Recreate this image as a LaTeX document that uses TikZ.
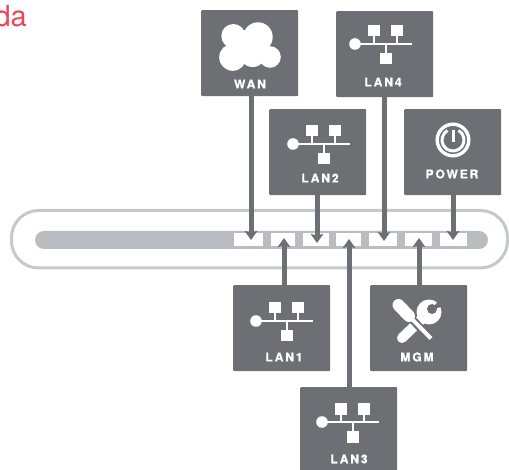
\documentclass[tikz,border=0pt]{standalone}
\usepackage{fontspec}
\setmainfont{TeX Gyre Heros}
\newfontfamily\lblfont[LetterSpace=16,FakeBold=1.2,UprightFont=*-Bold]{TeX Gyre Heros}
\usetikzlibrary{arrows.meta,calc}
\definecolor{boxgrey}{HTML}{6D6F74}
\definecolor{railgrey}{HTML}{C6C8CB}
\definecolor{bargrey}{HTML}{B9BCC0}
\definecolor{redtxt}{HTML}{EE4458}
\tikzset{
  x=1pt,y=-1pt,
  devbox/.style={fill=boxgrey,draw=none,rounded corners=1pt,minimum width=97pt,minimum height=86pt,inner sep=0pt,anchor=north west},
  portbox/.style={fill=white,draw=none,inner sep=0pt,minimum height=13pt,anchor=north west},
  lbl/.style={text=white,font=\lblfont\fontsize{12}{12}\selectfont,inner sep=0pt},
  conn/.style={draw=boxgrey,line width=5pt,-{Stealth[length=9pt,width=12.5pt,inset=1.5pt]}},
  pics/network/.style={code={
    \draw[white,line width=2pt] (0,0) -- (57,0);
    \draw[white,line width=2pt] (18.5,-10) -- (18.5,0) (41.5,-10) -- (41.5,0) (30.5,0) -- (30.5,10);
    \fill[white] (0,0) circle[radius=5.8];
    \fill[white] (13,-19) rectangle (24.5,-7.5);
    \fill[white] (36,-19) rectangle (47.5,-7.5);
    \fill[white] (25,9) rectangle (36.5,20.5);
  }}
}
\begin{document}
\begin{tikzpicture}
\useasboundingbox (0,0) rectangle (509,470);
\begin{scope}
\clip (0,0) rectangle (509,470);
\node[anchor=base east,inner sep=0pt,text=redtxt,font=\fontsize{29}{29}\selectfont] (title) at (27,27) {da};
% rail
\draw[railgrey,line width=3pt,rounded corners=27pt,fill=white] (11.5,210.5) rectangle (507.5,268);
\fill[bargrey,rounded corners=9pt] (35,231) rectangle (488,249);
% ports
\node[portbox,minimum width=29pt] (p1) at (234,233) {};
\node[portbox,minimum width=24pt] (p2) at (271,233) {};
\node[portbox,minimum width=26pt] (p3) at (303,233) {};
\node[portbox,minimum width=25pt] (p4) at (336,233) {};
\node[portbox,minimum width=28pt] (p5) at (369,233) {};
\node[portbox,minimum width=27pt] (p6) at (405,233) {};
\node[portbox,minimum width=27pt] (p7) at (440,233) {};
% boxes
\node[devbox] (wan) at (201,10) {};
\node[devbox] (lan4) at (336,11) {};
\node[devbox] (lan2) at (269,109) {};
\node[devbox] (power) at (404,109) {};
\node[devbox] (lan1) at (233,285) {};
\node[devbox] (mgm) at (370,285) {};
\node[devbox] (lan3) at (300,387) {};
% labels
\node[lbl] (lwan) at (250,84) {WAN};
\node[lbl] (llan4) at (383,82) {LAN4};
\node[lbl] (llan2) at (320,178) {LAN2};
\node[lbl] (lpower) at (452,174) {POWER};
\node[lbl] (llan1) at (284,357) {LAN1};
\node[lbl] (lmgm) at (417,357) {MGM};
\node[lbl] (llan3) at (349,459) {LAN3};
% tips
\coordinate (twan) at (251,240);
\coordinate (tlan2) at (317,243);
\coordinate (tlan4) at (384,241);
\coordinate (tpower) at (453,240);
\coordinate (tlan1) at (284,238);
\coordinate (tlan3) at (349,239);
\coordinate (tmgm) at (419,238);
\draw[conn] (twan |- wan.south) -- (twan);
\draw[conn] (tlan2 |- lan2.south) -- (tlan2);
\draw[conn] (tlan4 |- lan4.south) -- (tlan4);
\draw[conn] (tpower |- power.south) -- (tpower);
\draw[conn] (tlan1 |- lan1.north) -- (tlan1);
\draw[conn] (tlan3 |- lan3.north) -- (tlan3);
\draw[conn] (tmgm |- mgm.north) -- (tmgm);
% network icons
\pic at (355,44) {network};
\pic at (293,144) {network};
\pic at (256,321) {network};
\pic at (322,422) {network};
% cloud
\fill[white] (233.3,36) circle[radius=12] (258,37) circle[radius=14.7] (232.7,57.3) circle[radius=13.5]
  (252.7,53) circle[radius=14] (270,57) circle[radius=10.8] (245,45) circle[radius=15];
% power
\draw[white,line width=3.4pt] (453,140) circle[radius=15.8];
\draw[white,line width=3pt] (447.5,130.5) arc[start angle=240,delta angle=-300,radius=11];
\draw[white,line width=3pt] (453,130) -- (453,142);
% tools: wrench
\draw[white,line width=10pt,line cap=round] (402,338) -- (426,315);
\fill[white] (429,312) circle[radius=12.5];
\fill[boxgrey] (432,309) circle[radius=5];
\fill[boxgrey] (432,309) -- (443,295) -- (447,306) -- cycle;
% tools: screwdriver
\draw[boxgrey,line width=8pt] (411,318) -- (426,334);
\draw[white,line width=12pt,line cap=round] (398.5,305) -- (409,316);
\draw[white,line width=4pt] (411,318) -- (431,338.5);
\end{scope}
\end{tikzpicture}
\end{document}
